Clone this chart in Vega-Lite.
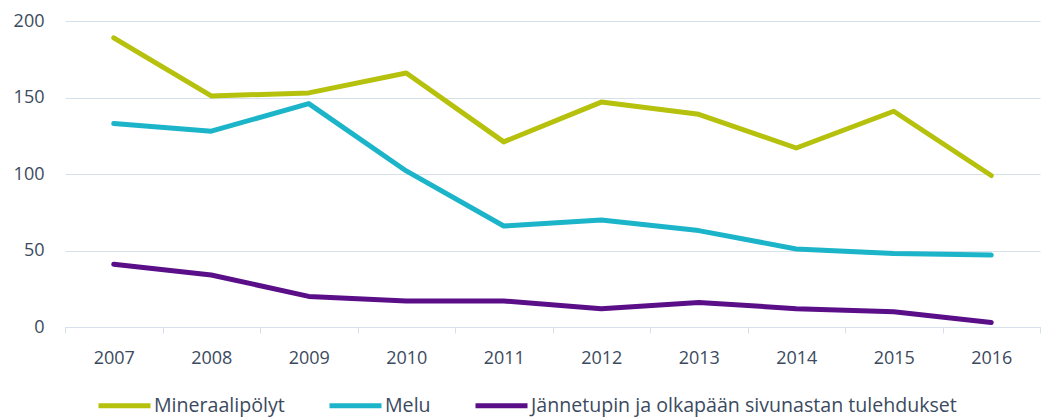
{
  "$schema": "https://vega.github.io/schema/vega-lite/v6.json",
  "width": 975,
  "height": 306,
  "autosize": {"type": "none"},
  "padding": {"left": 65, "top": 21, "right": 2, "bottom": 92},
  "background": "white",
  "config": {
    "view": {"stroke": null},
    "font": "Open Sans"
  },
  "data": {
    "values": [
      {"vuosi": "2007", "sarja": "Mineraalipölyt", "arvo": 189},
      {"vuosi": "2008", "sarja": "Mineraalipölyt", "arvo": 151},
      {"vuosi": "2009", "sarja": "Mineraalipölyt", "arvo": 153},
      {"vuosi": "2010", "sarja": "Mineraalipölyt", "arvo": 166},
      {"vuosi": "2011", "sarja": "Mineraalipölyt", "arvo": 121},
      {"vuosi": "2012", "sarja": "Mineraalipölyt", "arvo": 147},
      {"vuosi": "2013", "sarja": "Mineraalipölyt", "arvo": 139},
      {"vuosi": "2014", "sarja": "Mineraalipölyt", "arvo": 117},
      {"vuosi": "2015", "sarja": "Mineraalipölyt", "arvo": 141},
      {"vuosi": "2016", "sarja": "Mineraalipölyt", "arvo": 99},
      {"vuosi": "2007", "sarja": "Melu", "arvo": 133},
      {"vuosi": "2008", "sarja": "Melu", "arvo": 128},
      {"vuosi": "2009", "sarja": "Melu", "arvo": 146},
      {"vuosi": "2010", "sarja": "Melu", "arvo": 102},
      {"vuosi": "2011", "sarja": "Melu", "arvo": 66},
      {"vuosi": "2012", "sarja": "Melu", "arvo": 70},
      {"vuosi": "2013", "sarja": "Melu", "arvo": 63},
      {"vuosi": "2014", "sarja": "Melu", "arvo": 51},
      {"vuosi": "2015", "sarja": "Melu", "arvo": 48},
      {"vuosi": "2016", "sarja": "Melu", "arvo": 47},
      {"vuosi": "2007", "sarja": "Jännetupin ja olkapään sivunastan tulehdukset", "arvo": 41},
      {"vuosi": "2008", "sarja": "Jännetupin ja olkapään sivunastan tulehdukset", "arvo": 34},
      {"vuosi": "2009", "sarja": "Jännetupin ja olkapään sivunastan tulehdukset", "arvo": 20},
      {"vuosi": "2010", "sarja": "Jännetupin ja olkapään sivunastan tulehdukset", "arvo": 17},
      {"vuosi": "2011", "sarja": "Jännetupin ja olkapään sivunastan tulehdukset", "arvo": 17},
      {"vuosi": "2012", "sarja": "Jännetupin ja olkapään sivunastan tulehdukset", "arvo": 12},
      {"vuosi": "2013", "sarja": "Jännetupin ja olkapään sivunastan tulehdukset", "arvo": 16},
      {"vuosi": "2014", "sarja": "Jännetupin ja olkapään sivunastan tulehdukset", "arvo": 12},
      {"vuosi": "2015", "sarja": "Jännetupin ja olkapään sivunastan tulehdukset", "arvo": 10},
      {"vuosi": "2016", "sarja": "Jännetupin ja olkapään sivunastan tulehdukset", "arvo": 3}
    ]
  },
  "mark": {"type": "line", "strokeWidth": 5, "strokeCap": "round", "strokeJoin": "round"},
  "encoding": {
    "x": {
      "field": "vuosi",
      "type": "ordinal",
      "scale": {"type": "band", "paddingInner": 0, "paddingOuter": 0},
      "axis": {
        "title": null,
        "labelAngle": 0,
        "labelFontSize": 18,
        "labelColor": "#3b4a5e",
        "labelPadding": 16,
        "domainColor": "#d6e0ea",
        "tickColor": "#d6e0ea",
        "tickSize": 6,
        "tickBand": "extent",
        "grid": false
      }
    },
    "y": {
      "field": "arvo",
      "type": "quantitative",
      "scale": {"domain": [0, 200]},
      "axis": {
        "title": null,
        "values": [0, 50, 100, 150, 200],
        "labelFontSize": 18,
        "labelColor": "#3b4a5e",
        "labelPadding": 21,
        "domain": false,
        "ticks": false,
        "gridColor": "#d6e0ea",
        "gridWidth": 1.2
      }
    },
    "color": {
      "field": "sarja",
      "type": "nominal",
      "sort": ["Mineraalipölyt", "Melu", "Jännetupin ja olkapään sivunastan tulehdukset"],
      "scale": {
        "domain": ["Mineraalipölyt", "Melu", "Jännetupin ja olkapään sivunastan tulehdukset"],
        "range": ["#b5c10c", "#1cb4c9", "#5a0f88"]
      },
      "legend": {
        "title": null,
        "orient": "none",
        "legendX": 31,
        "legendY": 356,
        "direction": "horizontal",
        "symbolType": "stroke",
        "symbolSize": 2704,
        "symbolStrokeWidth": 5,
        "labelFontSize": 19.6,
        "labelColor": "#3b4a5e",
        "labelOffset": 1,
        "columnPadding": 34,
        "labelLimit": 600
      }
    }
  }
}
